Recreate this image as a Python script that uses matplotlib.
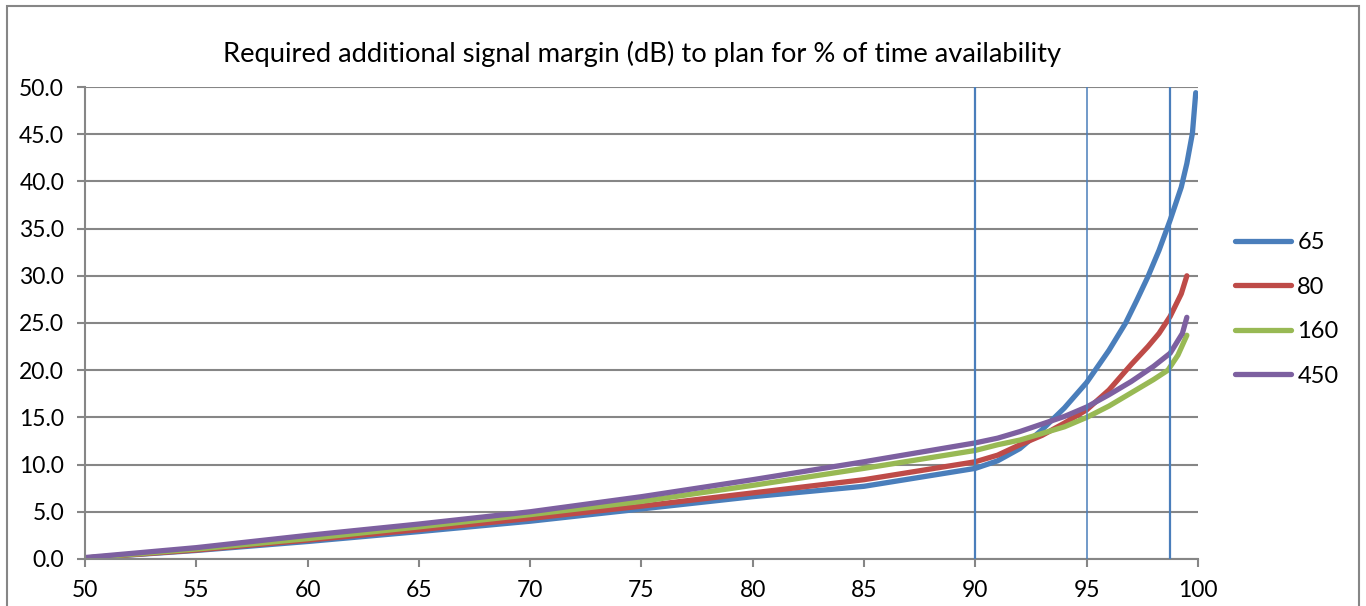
import matplotlib.pyplot as plt
from matplotlib.patches import Rectangle

plt.rcParams['font.family'] = ['Lato', 'DejaVu Sans']

# % of time availability and required additional margin (dB), one pair per series
pct_65 = [50, 55, 60, 65, 70, 75, 80, 85, 90, 91, 92, 93, 94, 95, 96, 96.75, 97.25, 97.75,
          98.25, 98.75, 99.25, 99.5, 99.75, 99.9]
margin_65 = [0.1, 0.9, 1.85, 2.9, 4.0, 5.3, 6.6, 7.7, 9.6, 10.4, 11.7, 13.7, 16.0, 18.7, 22.1, 25.0,
             27.4, 29.9, 32.7, 35.9, 39.4, 41.9, 45.1, 49.4]

pct_80 = [50, 55, 60, 65, 70, 75, 80, 85, 90, 91, 92, 93, 94, 95, 96, 97, 97.75, 98.25, 98.75,
          99.25, 99.5]
margin_80 = [0.1, 0.95, 2.0, 3.1, 4.3, 5.6, 7.0, 8.4, 10.3, 11.0, 12.1, 13.1, 14.4, 15.8, 17.9, 20.6,
             22.5, 23.9, 25.7, 28.1, 30.0]

pct_160 = [50, 55, 60, 65, 70, 75, 80, 85, 90, 91, 92, 93, 94, 95, 96, 97, 98, 98.65, 99.1, 99.5]
margin_160 = [0.1, 1.05, 2.15, 3.4, 4.7, 6.1, 7.8, 9.6, 11.5, 12.1, 12.6, 13.3, 14.0, 15.0, 16.2, 17.6,
              19.0, 20.0, 21.6, 23.7]

pct_450 = [50, 55, 60, 65, 70, 75, 80, 85, 90, 91, 92, 93, 94, 95, 96, 97, 98, 98.75, 99.3, 99.5]
margin_450 = [0.15, 1.2, 2.5, 3.7, 5.0, 6.6, 8.4, 10.3, 12.3, 12.8, 13.5, 14.3, 15.1, 16.1, 17.4, 18.8,
              20.4, 21.8, 23.9, 25.6]

# marker lines
vlines = [90, 95, 98.75]
vline_widths = [1.6, 1.1, 1.6]

fig = plt.figure(figsize=(13.66, 6.06), dpi=100)
ax = fig.add_axes([0.0622, 0.0776, 0.8148, 0.7788])

style = dict(lw=3.8, solid_capstyle='round', solid_joinstyle='round')
ax.plot(pct_65, margin_65, color='#4A7EBB', label='65', **style)
ax.plot(pct_80, margin_80, color='#BE4B48', label='80', **style)
ax.plot(pct_160, margin_160, color='#98B954', label='160', **style)
ax.plot(pct_450, margin_450, color='#7D60A0', label='450', **style)

for v, w in zip(vlines, vline_widths):
    ax.axvline(v, color='#4A7EBB', lw=w, zorder=3)

ax.set_xlim(50, 100)
ax.set_ylim(0, 50)
ax.set_xticks(range(50, 101, 5))
ax.set_yticks(range(0, 51, 5))
ax.set_yticklabels([f"{v:.1f}" for v in range(0, 51, 5)])
ax.grid(axis='y', color='#868686', lw=1.5)
ax.set_axisbelow(True)
for s in ['top', 'right']:
    ax.spines[s].set_visible(False)
for s in ['left', 'bottom']:
    ax.spines[s].set_color('#868686')
    ax.spines[s].set_linewidth(1.5)
ax.tick_params(colors='#868686', labelcolor='black', labelsize=16.5, length=6, width=1.5)
ax.tick_params(axis='y', pad=9)
ax.tick_params(axis='x', pad=9)

fig.text(0.4697, 1 - 54 / 606, "Required additional signal margin (dB) to plan for % of time availability",
         fontsize=19.7, ha='center', va='center')

ax.legend(loc='center left', bbox_to_anchor=(1.033, 0.529), frameon=False, fontsize=17,
          handlelength=2.4, labelspacing=1.0, handletextpad=0.25, borderpad=0, borderaxespad=0)

fig.patches.append(Rectangle((0.005, -0.01), 0.99, 1.0, transform=fig.transFigure,
                             fill=False, edgecolor='#868686', lw=1.5))

fig.savefig('out.png', dpi=100)
